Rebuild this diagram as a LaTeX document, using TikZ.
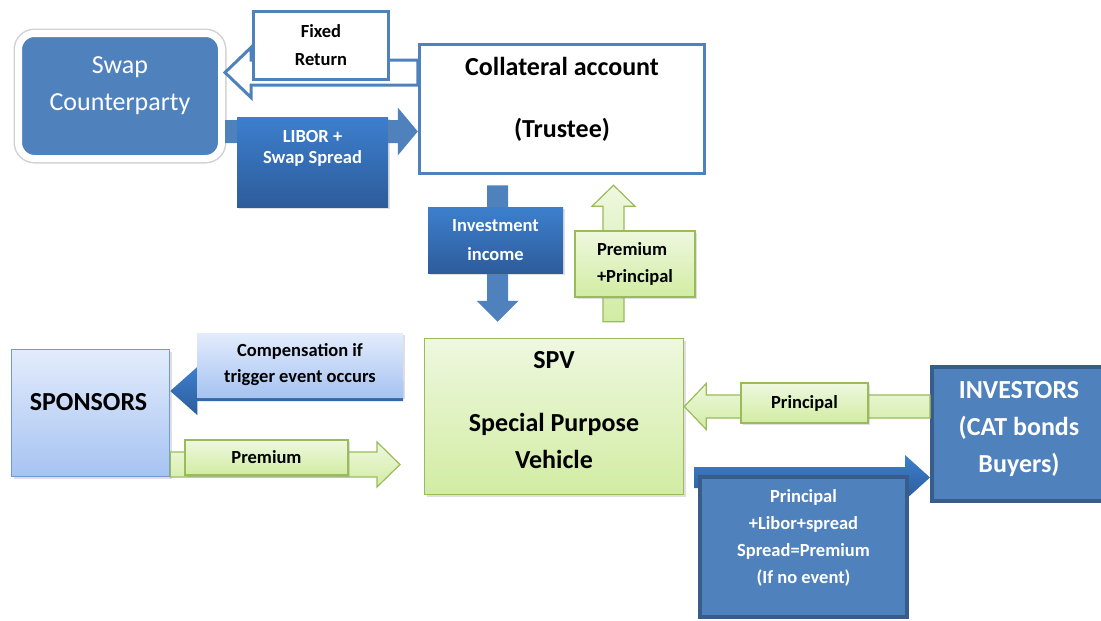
\documentclass[tikz,border=0pt]{standalone}
\usepackage{fontspec}
\setmainfont{Carlito}
\usetikzlibrary{calc,shadows,positioning}

\definecolor{cablue}{HTML}{4F81BD}
\definecolor{cabluedk}{HTML}{385D8A}
\definecolor{calbltop}{HTML}{3D7FCD}
\definecolor{calblbot}{HTML}{2D5C9B}
\definecolor{cagreen}{HTML}{9BBB59}
\definecolor{cagrntop}{HTML}{EEF8DF}
\definecolor{cagrnbot}{HTML}{D2ECA3}
\definecolor{casptop}{HTML}{E3ECFC}
\definecolor{caspbot}{HTML}{A6C3F2}
\definecolor{caspdraw}{HTML}{6F9AD6}

% block arrow: [style]{start}{tip}{shaft half width}{head half width}{head length}
\newcommand{\blockarrow}[6][]{%
  \coordinate (bahead) at ($(#3)!#6!(#2)$);
  \path[#1] ($(#2)!#4!90:(#3)$) -- ($(bahead)!#4!90:(#3)$) -- ($(bahead)!#5!90:(#3)$) -- (#3)
    -- ($(bahead)!#5!-90:(#3)$) -- ($(bahead)!#4!-90:(#3)$) -- ($(#2)!#4!-90:(#3)$) -- cycle;
}

\tikzset{
  box/.style={rectangle, inner sep=0pt},
  bigtxt/.style={font=\fontsize{26}{37}\selectfont\bfseries, align=center},
  smalltxt/.style={font=\fontsize{18.5}{27}\selectfont\bfseries, align=center},
  softshadow/.style={drop shadow={opacity=0.25, shadow xshift=2pt, shadow yshift=-2pt}},
  bluelbl/.style={box, softshadow, top color=calbltop, bottom color=calblbot},
  greenlbl/.style={box, softshadow, draw=cagreen, line width=1.2pt, top color=cagrntop, bottom color=cagrnbot},
  complbl/.style={box, softshadow, top color=casptop, bottom color=caspbot},
  bluearr/.style={fill=cablue},
  darkarr/.style={top color=calbltop, bottom color=calblbot},
  greenarr/.style={draw=cagreen, line width=1.2pt, top color=cagrntop, bottom color=cagrnbot},
  hollowarr/.style={draw=cablue, line width=3pt, fill=white},
}

\begin{document}
\begin{tikzpicture}[x=1pt, y=-1pt]
\useasboundingbox (0,0) rectangle (1101,621);

% main boxes
\node[box, draw=white, line width=7pt, fill=cablue, rounded corners=16pt, minimum width=203pt, minimum height=125pt,
      preaction={draw=black!18, line width=10pt}] (sc) at (120,96) {};
\node[text=white, font=\fontsize{26}{37}\selectfont, align=center] at ([yshift=10pt]sc.center) {Swap\\Counterparty};

\node[box, draw=cablue, line width=3.5pt, fill=white, minimum width=285pt, minimum height=129pt] (coll) at (562,109) {};
\node[bigtxt] at ([yshift=10pt]coll.center) {Collateral account\\[25pt](Trustee)};

\node[box, softshadow, draw=cagreen, line width=1.5pt, top color=cagrntop, bottom color=cagrnbot,
      minimum width=259pt, minimum height=156pt] (spv) at (554,416.5) {};
\node[bigtxt] at ([yshift=6.5pt]spv.center) {SPV\\[26pt]Special Purpose\\Vehicle};

\node[box, softshadow, draw=caspdraw, line width=1.5pt, top color=casptop, bottom color=caspbot,
      minimum width=158pt, minimum height=127pt] (spons) at (90.5,413) {};
\node[bigtxt] at ([xshift=-2pt, yshift=11pt]spons.center) {SPONSORS};

\node[box, draw=cabluedk, line width=4pt, fill=cablue, minimum width=180pt, minimum height=134pt] (inv) at (1022,434) {};
\node[bigtxt, text=white] at ([xshift=-3pt, yshift=5pt]inv.center) {INVESTORS\\(CAT bonds\\Buyers)};

% arrows
\coordinate (frA) at (coll.west |- 0,72.5);
\coordinate (frB) at (sc.east |- 0,72.5);
\blockarrow[hollowarr]{frA}{frB}{12.5pt}{25pt}{26pt}

\coordinate (libA) at (sc.east |- 0,131.5);
\coordinate (libB) at (coll.west |- 0,131.5);
\blockarrow[bluearr]{libA}{libB}{11.5pt}{24pt}{20pt}

\coordinate (iiA) at ($(coll.south)+(-64.5,10)$);
\coordinate (iiB) at ($(spv.north)+(-56.5,-16)$);
\blockarrow[bluearr]{iiA}{iiB}{10.5pt}{21pt}{21pt}

\coordinate (ppA) at ($(spv.north)+(59.5,-16)$);
\coordinate (ppB) at ($(coll.south)+(51.5,10)$);
\blockarrow[greenarr]{ppA}{ppB}{10.5pt}{21.5pt}{21pt}

\coordinate (cmA) at (403,391);
\coordinate (cmB) at (spons.east |- cmA);
\blockarrow[darkarr]{cmA}{cmB}{10pt}{24pt}{27pt}

\coordinate (prA) at (spons.east |- 0,464.5);
\coordinate (prB) at (400,464.5);
\blockarrow[greenarr]{prA}{prB}{12.5pt}{22.5pt}{23pt}

\coordinate (piA) at (inv.west |- 0,406.5);
\coordinate (piB) at (spv.east |- piA);
\blockarrow[greenarr]{piA}{piB}{11.5pt}{23pt}{22pt}

\coordinate (plA) at (694,477.5);
\coordinate (plB) at (inv.west |- plA);
\blockarrow[darkarr]{plA}{plB}{10.5pt}{22.5pt}{25pt}

% labels on the arrows
\node[box, smalltxt, draw=cablue, line width=3pt, fill=white, minimum width=135pt, minimum height=68pt,
      font=\fontsize{18.5}{28}\selectfont\bfseries] (fixret) at (321,45.5) {Fixed\\Return};

\node[bluelbl, minimum width=151pt, minimum height=90pt] (libor) at (312.5,162) {};
\node[smalltxt, text=white, font=\fontsize{18.5}{21}\selectfont\bfseries] at ([yshift=13.5pt]libor.center) {LIBOR +\\Swap Spread};

\node[bluelbl, smalltxt, text=white, minimum width=135pt, minimum height=66pt,
      font=\fontsize{18.5}{29}\selectfont\bfseries] (invinc) at (495.5,240) {Investment\\income};

\node[greenlbl, smalltxt, align=left, minimum width=120pt, minimum height=66pt] (prempr) at (635,264) {Premium\\+Principal};

\node[complbl, smalltxt, font=\fontsize{18.5}{26}\selectfont\bfseries, minimum width=206pt, minimum height=64pt] (comp) at (300,365)
  {Compensation if\\trigger event occurs};

\node[greenlbl, smalltxt, minimum width=163pt, minimum height=35pt] (prem) at (266.5,457.5) {Premium};

\node[greenlbl, smalltxt, minimum width=127pt, minimum height=40pt] (princ) at (804.5,403) {Principal};

\node[box, draw=cabluedk, line width=4pt, fill=cablue, minimum width=207pt, minimum height=140pt] (prinlib) at (803.5,547) {};
\node[smalltxt, text=white] at ([yshift=9.5pt]prinlib.center) {Principal\\+Libor+spread\\Spread=Premium\\(If no event)};
\end{tikzpicture}
\end{document}
